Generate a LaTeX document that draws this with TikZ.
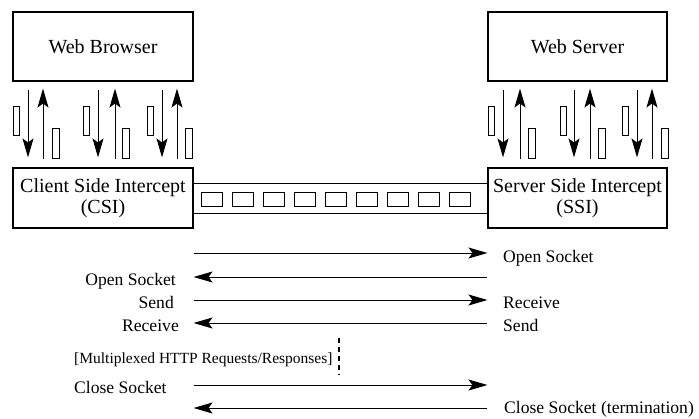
\documentclass[tikz,border=0pt]{standalone}
\usepackage{fontspec}
\setmainfont{Liberation Serif}
\usetikzlibrary{arrows.meta,calc}

\tikzset{
  box/.style={draw, line width=1.1pt, inner sep=0pt, align=center,
              font=\fontsize{20}{21}\selectfont},
  arr/.style={line width=1pt, -{Stealth[length=19pt,width=11pt,inset=4pt]}},
  harr/.style={line width=1pt, -{Stealth[length=19pt,width=11pt,inset=4pt]}},
  pkt/.style={draw, line width=0.9pt},
  lbl/.style={font=\fontsize{17.6}{19}\selectfont, inner sep=0pt},
  note/.style={font=\fontsize{15.5}{17}\selectfont, inner sep=0pt},
}

\begin{document}
\begin{tikzpicture}[x=1pt, y=-1pt]
\useasboundingbox (0,0) rectangle (699,418);

% end hosts and intercepts
\node[box, minimum width=180pt, minimum height=69pt] (wb)  at (103,46.5)  {Web Browser};
\node[box, minimum width=179pt, minimum height=69pt] (ws)  at (577.5,46.5) {Web Server};
\node[box, minimum width=180pt, minimum height=60pt] (csi) at (103,198)   {Client Side Intercept\\(CSI)};
\node[box, minimum width=179pt, minimum height=60pt] (ssi) at (577.5,198) {Server Side Intercept\\(SSI)};

% request/response columns between host and intercept
\foreach \d/\u/\a/\b [count=\i] in {28/43/13/52, 98/115/83/122, 162/177/147/185}{
  \coordinate (ld\i) at (\d,0);
  \coordinate (lu\i) at (\u,0);
  \draw[arr, shorten <=8pt, shorten >=10pt] (wb.south -| ld\i) -- (csi.north -| ld\i);
  \draw[arr, shorten <=8pt, shorten >=7pt]  (csi.north -| lu\i) -- (wb.south -| lu\i);
  \draw[pkt] (\a,106) rectangle ++(6.5,29);
  \draw[pkt] (\b,128) rectangle ++(7,30);
}
\foreach \d/\u/\a/\b [count=\i] in {503/520/488/528, 574/590/560/598, 637/652/622/661}{
  \coordinate (rd\i) at (\d,0);
  \coordinate (ru\i) at (\u,0);
  \draw[arr, shorten <=8pt, shorten >=10pt] (ws.south -| rd\i) -- (ssi.north -| rd\i);
  \draw[arr, shorten <=8pt, shorten >=7pt]  (ssi.north -| ru\i) -- (ws.south -| ru\i);
  \draw[pkt] (\a,106) rectangle ++(6.5,29);
  \draw[pkt] (\b,128) rectangle ++(7,30);
}

% multiplexed channel between the intercepts
\coordinate (ct) at (0,183);
\coordinate (cb) at (0,213);
\draw[line width=1pt] (csi.east |- ct) -- (ssi.west |- ct);
\draw[line width=1pt] (csi.east |- cb) -- (ssi.west |- cb);
\foreach \k in {0,...,8}{
  \draw[pkt] (201+31*\k,192) rectangle ++(21,14);
}

% message sequence
\foreach \n/\y in {1/253, 2/277, 3/300, 4/323, 5/385, 6/408}{
  \coordinate (m\n) at (0,\y);
}
\draw[harr] (csi.east |- m1) -- (ssi.west |- m1);
\draw[harr] (ssi.west |- m2) -- (csi.east |- m2);
\draw[harr] (csi.east |- m3) -- (ssi.west |- m3);
\draw[harr] (ssi.west |- m4) -- (csi.east |- m4);
\draw[harr] (csi.east |- m5) -- (ssi.west |- m5);
\draw[harr] (ssi.west |- m6) -- (csi.east |- m6);

\node[lbl, anchor=base west] (t1)  at (503,262) {Open Socket};
\node[lbl, anchor=base east] (t2)  at (176,285) {Open Socket};
\node[lbl, anchor=base east] (t3)  at (174,308) {Send};
\node[lbl, anchor=base west] (t3r) at (503,308) {Receive};
\node[lbl, anchor=base east] (t4)  at (179,331) {Receive};
\node[lbl, anchor=base west] (t4r) at (503,331) {Send};
\node[note, anchor=base west] (mx) at (74,363) {[Multiplexed HTTP Requests/Responses]};
\coordinate (dt) at (339,338);
\coordinate (db) at (339,375);
\draw[line width=1.4pt, dash pattern=on 5pt off 4pt] (dt) -- (db);
\node[lbl, anchor=base west] (t5) at (74,393) {Close Socket};
\node[lbl, anchor=base west] (t6) at (504,413.5) {Close Socket (termination)};
\end{tikzpicture}
\end{document}
